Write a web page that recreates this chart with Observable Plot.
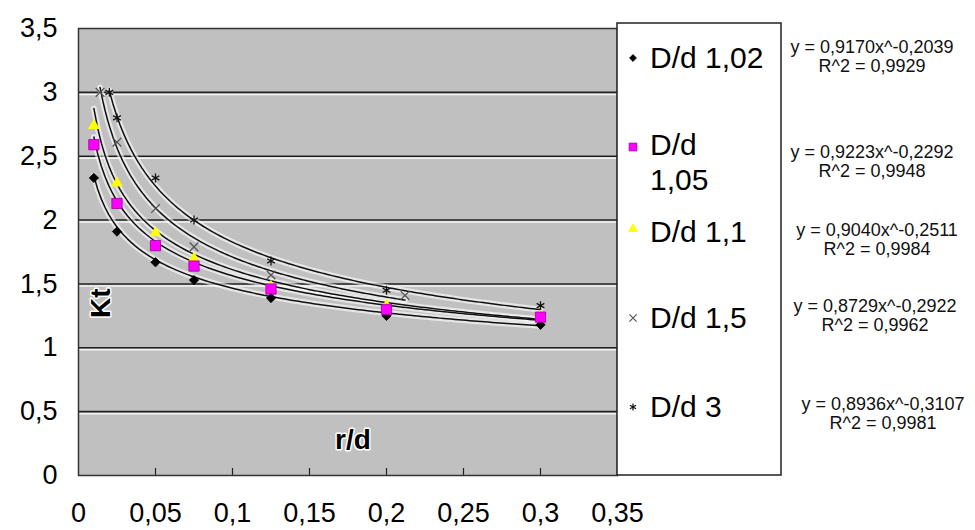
<!DOCTYPE html>
<html><head><meta charset="utf-8">
<script src="https://cdn.jsdelivr.net/npm/d3@7"></script>
<script src="https://cdn.jsdelivr.net/npm/@observablehq/plot@0.6"></script>
<style>
body{margin:0;background:#fff}
#chart{position:relative;width:975px;height:530px}
</style></head>
<body><div id="chart"></div>
<script>
// ---- data ----
const seriesNames = ["D/d 1,02", "D/d 1,05", "D/d 1,1", "D/d 1,5", "D/d 3"];
const xStd = [0.01, 0.025, 0.05, 0.075, 0.125, 0.2, 0.3];
const x15 = [0.014, 0.025, 0.05, 0.075, 0.125, 0.212];
const x3 = [0.02, 0.025, 0.05, 0.075, 0.125, 0.2, 0.3];
const y102 = [2.33, 1.91, 1.67, 1.53, 1.39, 1.25, 1.18];
const y105 = [2.59, 2.13, 1.80, 1.64, 1.46, 1.30, 1.24];
const y11  = [2.74, 2.29, 1.90, 1.70, 1.48, 1.33, 1.25];
const y15  = [3.00, 2.61, 2.09, 1.79, 1.57, 1.41];
const y3   = [3.00, 2.80, 2.33, 2.00, 1.68, 1.45, 1.33];
const xSets = [xStd, xStd, xStd, x15, x3];
const ySets = [y102, y105, y11, y15, y3];
// power trendlines y = a * x^b (from the equations printed on the chart)
const trendA = [0.9170, 0.9223, 0.9040, 0.8729, 0.8936];
const trendB = [-0.2039, -0.2292, -0.2511, -0.2922, -0.3107];
const eqText = ["y = 0,9170x^-0,2039", "y = 0,9223x^-0,2292", "y = 0,9040x^-0,2511", "y = 0,8729x^-0,2922", "y = 0,8936x^-0,3107"];
const r2Text = ["R^2 = 0,9929", "R^2 = 0,9948", "R^2 = 0,9984", "R^2 = 0,9962", "R^2 = 0,9981"];
const legendLines = [["D/d 1,02"], ["D/d", "1,05"], ["D/d 1,1"], ["D/d 1,5"], ["D/d 3"]];
const xTicks = [0, 0.05, 0.1, 0.15, 0.2, 0.25, 0.3, 0.35];
const xTickLabels = ["0", "0,05", "0,1", "0,15", "0,2", "0,25", "0,3", "0,35"];
const yTicks = [0, 0.5, 1, 1.5, 2, 2.5, 3, 3.5];
const yTickLabels = ["0", "0,5", "1", "1,5", "2", "2,5", "3", "3,5"];
const gridValues = [0.5, 1, 1.5, 2, 2.5, 3];

// ---- styles ----
const FONT = "'Liberation Sans', Arial, Helvetica, sans-serif";
const symbols = ["diamond2", "square", "triangle", "times", "asterisk"];
const d3symbols = [d3.symbolDiamond2, d3.symbolSquare, d3.symbolTriangle, d3.symbolTimes, d3.symbolAsterisk];
const fills = ["#000", "#ff00ff", "#ffff00", "none", "none"];
const strokes = ["#000", "#990099", "none", "#555", "#111"];
const radii = [4.2, 5.8, 4.4, 4, 4.2];
const drawOrder = [0, 2, 1, 3, 4];

// ---- tables ----
const rows = [];
seriesNames.forEach((s, i) => xSets[i].forEach((x, j) => rows.push({series: s, idx: i, x, y: ySets[i][j]})));
const trend = [];
seriesNames.forEach((s, i) => {
  const lo = d3.min(xSets[i]), hi = d3.max(xSets[i]);
  for (let k = 0; k <= 120; k++) {
    const x = lo + (hi - lo) * k / 120;
    trend.push({series: s, x, y: trendA[i] * Math.pow(x, trendB[i])});
  }
});

const plot = Plot.plot({
  width: 975, height: 530,
  marginLeft: 78, marginRight: 358, marginTop: 28, marginBottom: 55,
  x: {domain: [0, 0.35]},
  y: {domain: [0, 3.5]},
  style: {fontFamily: FONT, background: "white", color: "#000", overflow: "visible"},
  marks: [
    Plot.frame({fill: "#c0c0c0"}),
    Plot.ruleY(gridValues, {stroke: "#f4f4f4", strokeWidth: 1.6, dy: 2}),
    Plot.ruleY(gridValues, {stroke: "#222", strokeWidth: 1.6}),
    Plot.ruleX(xTicks.slice(1, -1), {stroke: "#222", strokeWidth: 1.2, insetTop: 440}),
    Plot.axisX(xTicks, {tickSize: 0, tickPadding: 27, fontSize: 27, label: null,
      tickFormat: d => xTickLabels[xTicks.indexOf(d)]}),
    Plot.axisY(yTicks, {tickSize: 0, tickPadding: 21, fontSize: 27, label: null,
      tickFormat: d => yTickLabels[yTicks.indexOf(d)]}),
    Plot.line(trend, {x: "x", y: "y", z: "series", stroke: "white", strokeOpacity: 0.6, strokeWidth: 6, curve: "linear"}),
    Plot.line(trend, {x: "x", y: "y", z: "series", stroke: "#111", strokeWidth: 1.5, curve: "linear"}),
    ...drawOrder.map(i => Plot.dot(rows.filter(d => d.idx === i), {
      x: "x", y: "y", symbol: () => symbols[i], r: radii[i],
      fill: fills[i], stroke: strokes[i], strokeWidth: i >= 3 ? 1.3 : 0.8
    })),
    Plot.text(["Kt"], {frameAnchor: "left", dx: 23, dy: 66, rotate: -90, fontSize: 28, fontWeight: "bold",
      fill: "#000", stroke: "white", strokeWidth: 3}),
    Plot.text(["r/d"], {frameAnchor: "bottom", dx: 5, dy: -27, fontSize: 28, fontWeight: "bold",
      fill: "#000", stroke: "white", strokeWidth: 3}),
    Plot.frame({stroke: "#333", strokeWidth: 1.5})
  ]
});
document.getElementById("chart").appendChild(plot);

// ---- legend box and trendline equations ----
const svg = d3.select(plot);
const lg = svg.append("g").attr("font-family", FONT).attr("text-anchor", "start");
lg.append("rect").attr("x", 617).attr("y", 23).attr("width", 164).attr("height", 452)
  .attr("fill", "white").attr("stroke", "#222").attr("stroke-width", 1.5);
const symY = [58, 147, 229, 318, 407];
const textBase = [[68], [155, 190], [242], [328], [417]];
const symSize = [30, 60, 45, 35, 35];
seriesNames.forEach((s, i) => {
  lg.append("path")
    .attr("transform", `translate(633,${symY[i]})`)
    .attr("d", d3.symbol(d3symbols[i], symSize[i])())
    .attr("fill", fills[i]).attr("stroke", strokes[i]).attr("stroke-width", i >= 3 ? 1.2 : 0.8);
  legendLines[i].forEach((t, k) => {
    lg.append("text").attr("x", 650).attr("y", textBase[i][k])
      .attr("font-size", 30).attr("fill", "#000").text(t);
  });
});
const eqX = [872, 872, 877, 875, 883];
const eqY1 = [53, 158, 236, 312, 410];
const eqY2 = [72, 177, 255, 331, 429];
const eg = svg.append("g").attr("font-family", FONT).attr("font-size", 18).attr("fill", "#111").attr("text-anchor", "middle");
eqText.forEach((t, i) => {
  eg.append("text").attr("x", eqX[i]).attr("y", eqY1[i]).text(t);
  eg.append("text").attr("x", eqX[i]).attr("y", eqY2[i]).text(r2Text[i]);
});
</script>
</body></html>
